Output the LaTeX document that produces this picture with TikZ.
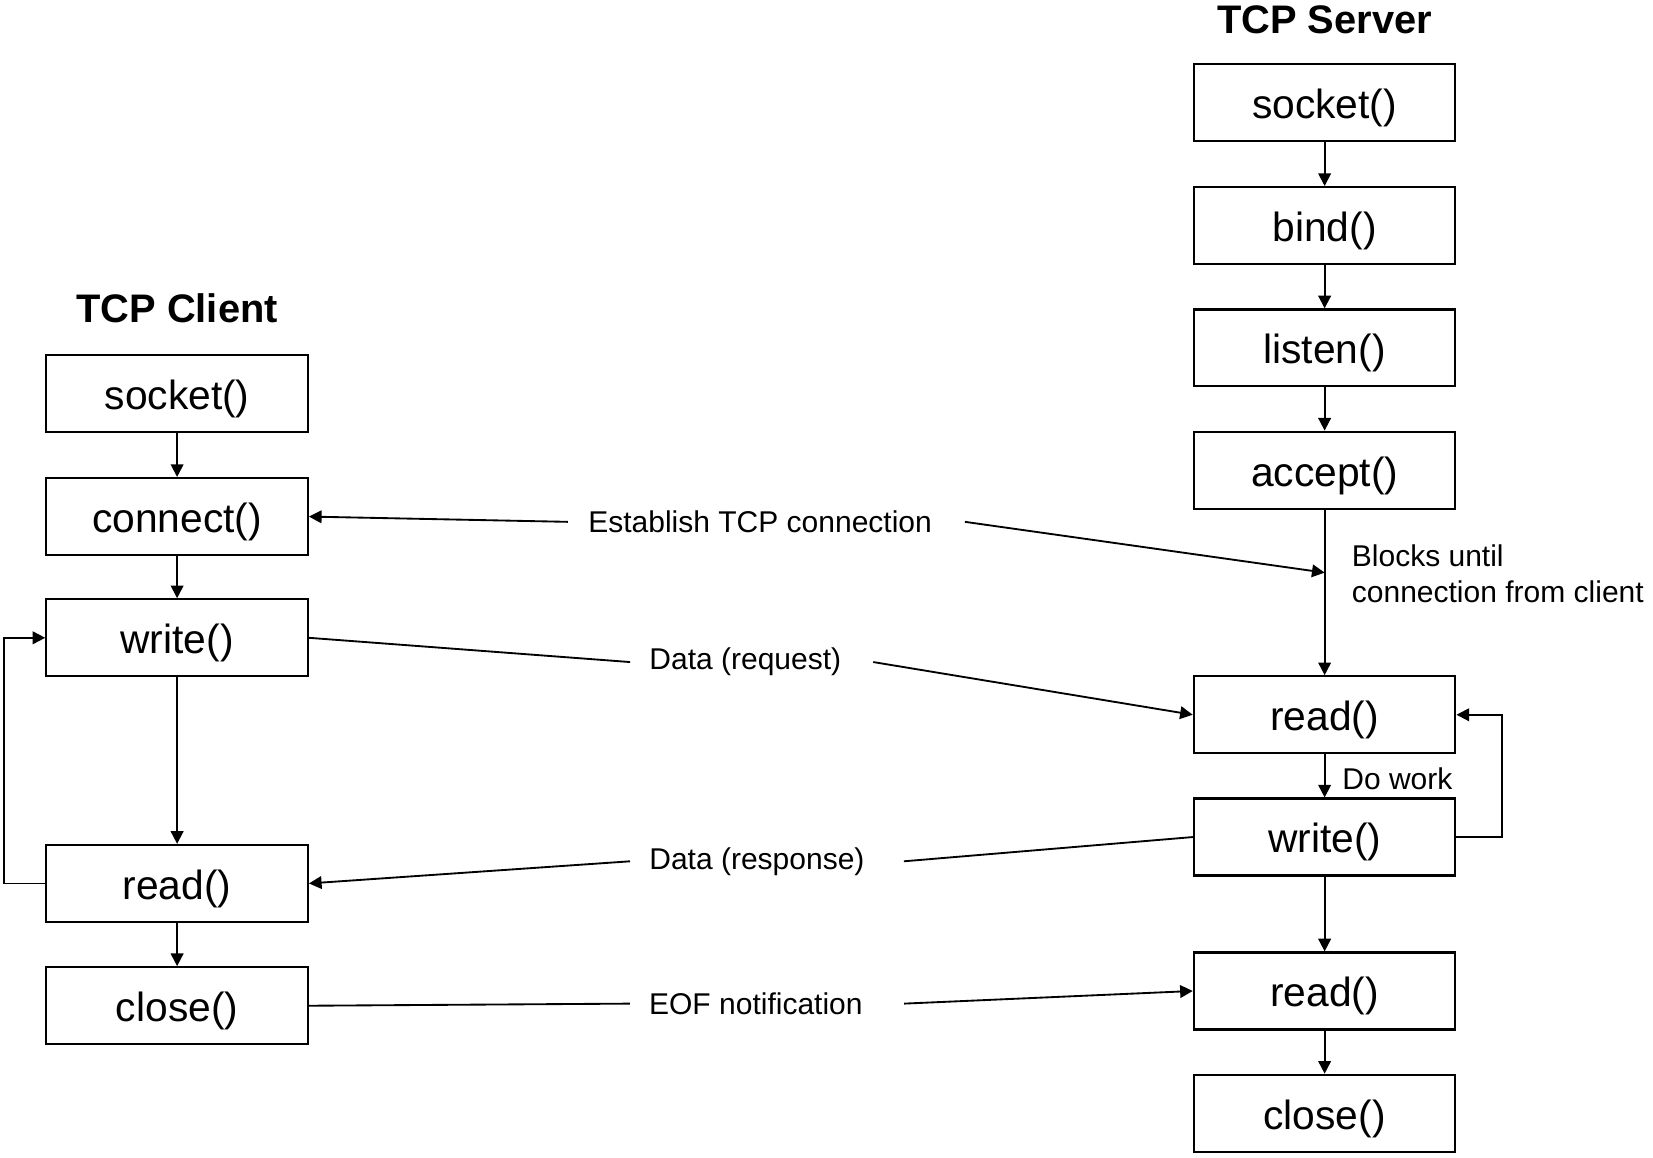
\documentclass[tikz,border=0pt]{standalone}
\usepackage{fontspec}
\setmainfont{Liberation Sans}
\usetikzlibrary{arrows.meta,calc}

\begin{document}
\begin{tikzpicture}[
    callbox/.style={draw, line width=1.2pt, minimum width=4.96cm, minimum height=1.46cm, inner sep=0pt, text height=21.8pt, text depth=4.6pt, font=\fontsize{22}{24}\selectfont},
    sidetitle/.style={font=\fontsize{21.5}{24}\selectfont\bfseries, inner sep=0pt},
    flowlabel/.style={font=\fontsize{16.2}{19.5}\selectfont, inner sep=0pt},
    flowarrow/.style={-{Triangle[length=0.24cm, width=0.24cm]}, line width=1pt},
    flowline/.style={line width=1pt}
]
\useasboundingbox (0,0) rectangle (31.36,-21.96);

% Client side
\node[sidetitle] (ctitle) at (3.36,-5.84) {TCP Client};
\node[callbox] (csocket) at (3.36,-7.46) {socket()};
\node[callbox] (cconnect) at (3.36,-9.80) {connect()};
\node[callbox] (cwrite) at (3.36,-12.10) {write()};
\node[callbox] (cread) at (3.36,-16.76) {read()};
\node[callbox] (cclose) at (3.36,-19.08) {close()};

% Server side
\node[sidetitle] (stitle) at (25.13,-0.38) {TCP Server};
\node[callbox] (ssocket) at (25.13,-1.94) {socket()};
\node[callbox] (sbind) at (25.13,-4.28) {bind()};
\node[callbox] (slisten) at (25.13,-6.60) {listen()};
\node[callbox] (saccept) at (25.13,-8.92) {accept()};
\node[callbox] (sread) at (25.13,-13.56) {read()};
\node[callbox] (swrite) at (25.13,-15.88) {write()};
\node[callbox] (sreadeof) at (25.13,-18.80) {read()};
\node[callbox] (sclose) at (25.13,-21.12) {close()};

% Labels
\node[flowlabel] (est) at (14.42,-9.90) {Establish TCP connection};
\node[flowlabel] (req) at (14.14,-12.56) {Data (request)};
\node[flowlabel] (resp) at (14.36,-16.34) {Data (response)};
\node[flowlabel] (eof) at (14.34,-19.04) {EOF notification};
\node[flowlabel, anchor=west, align=left] (blocks) at (25.64,-10.88) {Blocks until\\connection from client};
\node[flowlabel, anchor=west] (work) at (25.46,-14.78) {Do work};
\coordinate (blk) at ($(saccept.south)!0.38!(sread.north)$);

% Client flow
\draw[flowarrow] (csocket) -- (cconnect);
\draw[flowarrow] (cconnect) -- (cwrite);
\draw[flowarrow] (cwrite) -- (cread);
\draw[flowarrow] (cread) -- (cclose);
\draw[flowarrow] (cread.west) -- ++(-0.78,0) |- (cwrite.west);

% Server flow
\draw[flowarrow] (ssocket) -- (sbind);
\draw[flowarrow] (sbind) -- (slisten);
\draw[flowarrow] (slisten) -- (saccept);
\draw[flowarrow] (saccept) -- (sread);
\draw[flowarrow] (sread) -- (swrite);
\draw[flowarrow] (swrite) -- (sreadeof);
\draw[flowarrow] (sreadeof) -- (sclose);
\draw[flowarrow] (swrite.east) -- ++(0.86,0) |- (sread.east);

% Messages
\draw[flowarrow] ([xshift=-0.38cm]est.west) -- (cconnect.east);
\draw[flowarrow] ([xshift=0.62cm]est.east) -- (blk);
\draw[flowline] (cwrite.east) -- ([xshift=-0.36cm]req.west);
\draw[flowarrow] ([xshift=0.60cm]req.east) -- (sread.west);
\draw[flowline] (swrite.west) -- ([xshift=0.74cm]resp.east);
\draw[flowarrow] ([xshift=-0.36cm]resp.west) -- (cread.east);
\draw[flowline] (cclose.east) -- ([xshift=-0.36cm]eof.west);
\draw[flowarrow] ([xshift=0.78cm]eof.east) -- (sreadeof.west);
\end{tikzpicture}
\end{document}
